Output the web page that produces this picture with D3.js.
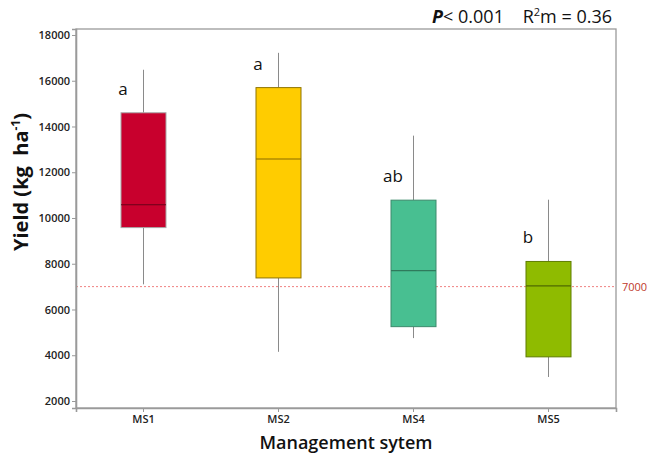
<!DOCTYPE html>
<html><head><meta charset="utf-8">
<script src="https://cdn.jsdelivr.net/npm/d3@7/dist/d3.min.js"></script>
<style>body{margin:0;background:#fff}svg{display:block}text{font-family:"Open Sans","Noto Sans",sans-serif}</style>
</head><body><svg id="c" width="648" height="456"></svg>
<script>
const categories = ["MS1","MS2","MS4","MS5"];
const whiskerLow  = [7100, 4150, 4750, 3050];
const q1          = [9580, 7380, 5250, 3930];
const median      = [10580, 12580, 7700, 7030];
const q3          = [14600, 15700, 10780, 8100];
const whiskerHigh = [16480, 17220, 13600, 10800];
const letters     = ["a","a","ab","b"];
const fills   = ["#c8002d","#ffcc00","#48bf91","#8fbb00"];
const strokes = ["#a8a8a8","#8f7400","#3c8a6c","#5f7d00"];
const medCols = ["#6a0018","#8a6a00","#2f7a5c","#4f6a00"];
const yTicks  = [2000,4000,6000,8000,10000,12000,14000,16000,18000];
const refLine = 7000;

const svg = d3.select("#c");
const L=76,R=616,T=29,B=408;
const x = d3.scaleBand().domain(categories).range([L,R]);
const y = d3.scaleLinear().domain([1694,18262]).range([B,T]);
const bw = x.bandwidth()/3;

// frame
svg.append("rect").attr("x",L).attr("y",T).attr("width",R-L).attr("height",B-T)
  .attr("fill","none").attr("stroke","#9a9a9a").attr("stroke-width",1.3);

// reference line
svg.append("line").attr("x1",L).attr("x2",R).attr("y1",y(refLine)).attr("y2",y(refLine))
  .attr("stroke","#f08080").attr("stroke-width",1).attr("stroke-dasharray","2,2");
svg.append("text").attr("x",622).attr("y",y(refLine)+4).attr("font-size",11)
  .attr("fill","#c0392b").text(String(refLine));

// axes
const ya = svg.append("g").attr("transform",`translate(${L},0)`)
  .call(d3.axisLeft(y).tickValues(yTicks).tickSize(4).tickPadding(2).tickFormat(d3.format("d")));
const xa = svg.append("g").attr("transform",`translate(0,${B})`)
  .call(d3.axisBottom(x).tickSize(4).tickPadding(3));
[ya,xa].forEach(g=>{
  g.select(".domain").attr("stroke","#9a9a9a").attr("stroke-width",1.6);
  g.selectAll(".tick line").attr("stroke","#9a9a9a");
  g.selectAll(".tick text").attr("font-size",11).attr("font-weight",600).attr("fill","#222")
   .attr("font-family","'Open Sans','Noto Sans',sans-serif");
});

// boxes
categories.forEach((c,i)=>{
  const cx = x(c)+x.bandwidth()/2;
  svg.append("line").attr("x1",cx).attr("x2",cx).attr("y1",y(whiskerHigh[i])).attr("y2",y(q3[i]))
    .attr("stroke","#8a8a8a").attr("stroke-width",1);
  svg.append("line").attr("x1",cx).attr("x2",cx).attr("y1",y(q1[i])).attr("y2",y(whiskerLow[i]))
    .attr("stroke","#8a8a8a").attr("stroke-width",1);
  svg.append("rect").attr("x",cx-bw/2).attr("width",bw).attr("y",y(q3[i])).attr("height",y(q1[i])-y(q3[i]))
    .attr("fill",fills[i]).attr("stroke",strokes[i]).attr("stroke-width",1);
  svg.append("line").attr("x1",cx-bw/2).attr("x2",cx+bw/2).attr("y1",y(median[i])).attr("y2",y(median[i]))
    .attr("stroke",medCols[i]).attr("stroke-width",1.2);
  svg.append("text").attr("x",cx-bw/2+2).attr("y",y(q3[i])-18).attr("text-anchor","middle")
    .attr("font-size",17).attr("fill","#111").text(letters[i]);
});

// axis titles
svg.append("text").attr("transform",`translate(28,182) rotate(-90)`).attr("text-anchor","middle")
  .attr("font-size",20).attr("font-weight",700).attr("fill","#111")
  .html('Yield (kg&#160;&#160;ha<tspan dy="-8" font-size="12">-1</tspan><tspan dy="8">)</tspan>');
svg.append("text").attr("x",(L+R)/2).attr("y",449).attr("text-anchor","middle")
  .attr("font-size",18).attr("font-weight",600).attr("fill","#111").text("Management sytem");

// stats
svg.append("text").attr("x",612).attr("y",23).attr("text-anchor","end").attr("font-size",18).attr("fill","#111")
  .html('<tspan font-style="italic" font-weight="700">P</tspan>&lt; 0.001&#160;&#160;&#160;&#160;R<tspan dy="-7" font-size="11">2</tspan><tspan dy="7">m = 0.36</tspan>');
</script></body></html>
